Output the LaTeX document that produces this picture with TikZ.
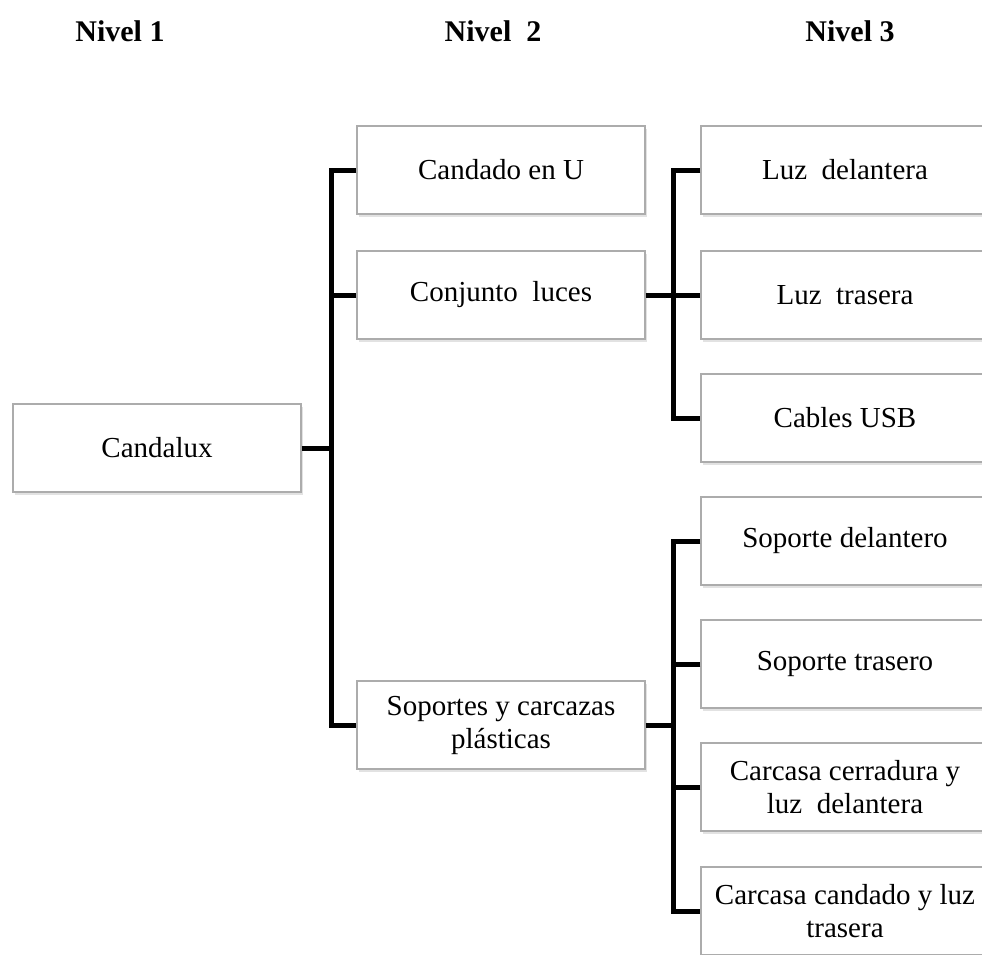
\documentclass[tikz,border=0pt]{standalone}
\usepackage{fontspec}
\setmainfont{Liberation Serif}
\usetikzlibrary{shadows}

\begin{document}
\begin{tikzpicture}[x=1pt, y=-1pt,
  box/.style={rectangle, minimum width=288pt, minimum height=88pt,
              draw=gray!65, line width=1.2pt, fill=white, align=center,
              font=\fontsize{29}{33}\selectfont, inner sep=0pt,
              drop shadow={shadow xshift=2pt, shadow yshift=-2.5pt, fill=gray!45}},
  lvl/.style={font=\bfseries\fontsize{30}{34}\selectfont},
  link/.style={line width=5pt, line join=miter},
]
\useasboundingbox (0,0) rectangle (982,954);

% cabeceras
\node[lvl] (n1) at (120,31) {Nivel 1};
\node[lvl] (n2) at (493,31) {Nivel\ \ 2};
\node[lvl] (n3) at (850,31) {Nivel 3};

% nivel 1
\node[box] (root) at (157,448) {Candalux};

% nivel 2
\node[box] (candado) at (501,170) {Candado en U};
\node[box] (luces) at (501,295) {Conjunto\ \ luces};
\node[box] (soportes) at (501,725) {Soportes y carcazas\\plásticas};

% nivel 3
\node[box] (ldel) at (845,170) {Luz\ \ delantera};
\node[box] (ltra) at (845,295) {Luz\ \ trasera};
\node[box] (usb) at (845,418) {Cables USB};
\node[box] (sdel) at (845,541) {Soporte delantero};
\node[box] (stra) at (845,664) {Soporte trasero};
\node[box] (ccer) at (845,787) {Carcasa cerradura y\\luz\ \ delantera};
\node[box] (ccan) at (845,911) {Carcasa candado y luz\\trasera};

\coordinate (t1) at (331,448);
\coordinate (t2) at (673,295);

\draw[link] (root.east) -- (t1);
\draw[link] (candado.west) -- (candado.west -| t1) -- (soportes.west -| t1) -- (soportes.west);
\draw[link] (luces.west) -- (luces.west -| t1);

\draw[link] (luces.east) -- (ltra.west);
\draw[link] (ldel.west) -- (ldel.west -| t2) -- (usb.west -| t2) -- (usb.west);

\draw[link] (soportes.east) -- (soportes.east -| t2);
\draw[link] (sdel.west) -- (sdel.west -| t2) -- (ccan.west -| t2) -- (ccan.west);
\draw[link] (stra.west) -- (stra.west -| t2);
\draw[link] (ccer.west) -- (ccer.west -| t2);
\end{tikzpicture}
\end{document}
